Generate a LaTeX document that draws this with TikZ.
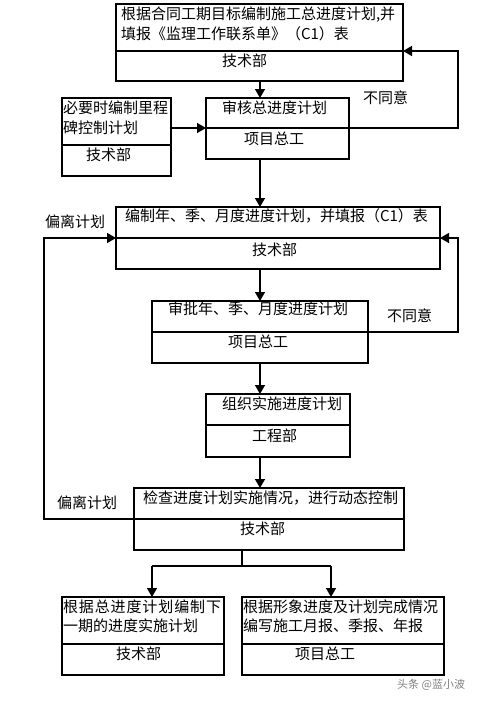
\documentclass[tikz,border=0pt]{standalone}
\usepackage{fontspec}
\setmainfont{Noto Sans CJK SC}
\usetikzlibrary{arrows.meta}
\begin{document}
\begin{tikzpicture}[x=1pt,y=-1pt,
  part/.style={draw, line width=1.7pt, inner sep=0pt, outer sep=0pt, anchor=north west},
  txt/.style={inner sep=0pt, outer sep=0pt, anchor=west, font=\fontsize{15pt}{17pt}\selectfont},
  wm/.style={inner sep=0pt, anchor=west, text=black!50, font=\fontsize{11pt}{13pt}\selectfont},
  conn/.style={line width=1.4pt, -{Triangle[length=9pt,width=10pt]}},
  plain/.style={line width=1.4pt}]
\useasboundingbox (0,0) rectangle (485,701);
% boxes
\node[part, minimum width=287, minimum height=47] (b1t) at (116,4) {};
\node[part, minimum width=287, minimum height=30] (b1b) at (116,51) {};
\node[part, minimum width=143, minimum height=30] (b2t) at (206,98) {};
\node[part, minimum width=143, minimum height=31] (b2b) at (206,128) {};
\node[part, minimum width=109, minimum height=47] (sdt) at (62,98) {};
\node[part, minimum width=109, minimum height=31] (sdb) at (62,145) {};
\node[part, minimum width=324, minimum height=31] (b3t) at (116,207) {};
\node[part, minimum width=324, minimum height=31] (b3b) at (116,238) {};
\node[part, minimum width=216, minimum height=31] (b4t) at (152,301) {};
\node[part, minimum width=216, minimum height=31] (b4b) at (152,332) {};
\node[part, minimum width=144, minimum height=31] (b5t) at (206,394) {};
\node[part, minimum width=144, minimum height=32] (b5b) at (206,425) {};
\node[part, minimum width=270, minimum height=31] (b6t) at (134,488) {};
\node[part, minimum width=270, minimum height=31] (b6b) at (134,519) {};
\node[part, minimum width=162, minimum height=47] (b7t) at (62,597) {};
\node[part, minimum width=162, minimum height=31] (b7b) at (62,644) {};
\node[part, minimum width=202, minimum height=47] (b8t) at (242,597) {};
\node[part, minimum width=202, minimum height=31] (b8b) at (242,644) {};
% texts
\node[txt] (t1a) at (121,15) {根据合同工期目标编制施工总进度计划,并};
\node[txt] (t1b) at (121,34) {填报《监理工作联系单》（C1）表};
\node[txt] (t1c) at (222,61) {技术部};
\node[txt] (t2a) at (222,108) {审核总进度计划};
\node[txt] (t2b) at (244,139) {项目总工};
\node[txt] (tsa) at (63,108) {必要时编制里程};
\node[txt] (tsb) at (63,128) {碑控制计划};
\node[txt] (tsc) at (86,155) {技术部};
\node[txt] (t3a) at (125,216) {编制年、季、月度进度计划，并填报（C1）表};
\node[txt] (t3b) at (252,250) {技术部};
\node[txt] (t4a) at (168,309) {审批年、季、月度进度计划};
\node[txt] (t4b) at (228,342) {项目总工};
\node[txt] (t5a) at (222,404) {组织实施进度计划};
\node[txt] (t5b) at (252,436) {工程部};
\node[txt] (t6a) at (143,498) {检查进度计划实施情况，进行动态控制};
\node[txt] (t6b) at (240,529) {技术部};
\node[txt] (t7a) at (63,607) {\addfontfeature{LetterSpace=6}根据总进度计划编制下};
\node[txt] (t7b) at (63,626) {一期的进度实施计划};
\node[txt] (t7c) at (116,654) {技术部};
\node[txt] (t8a) at (243,607) {根据形象进度及计划完成情况};
\node[txt] (t8b) at (243,626) {编写施工月报、季报、年报};
\node[txt] (t8c) at (295,654) {项目总工};
\node[txt] (l1) at (363,98) {不同意};
\node[txt] (l2) at (387,316) {不同意};
\node[txt] (l3) at (45,222) {偏离计划};
\node[txt] (l4) at (57,503) {偏离计划};
\node[wm] (wmk) at (397,685) {头条 @蓝小波};
% helper coordinates
\coordinate (ax) at (260,0);
\coordinate (bx) at (242,0);
\coordinate (rx) at (458,0);
\coordinate (lx) at (44,0);
\coordinate (sp) at (242,566);
\coordinate (sl) at (152,566);
\coordinate (sr) at (331,566);
% connectors
\draw[conn] (b1b.south -| ax) -- (b2t.north -| ax);
\draw[conn] (b2b.south -| ax) -- (b3t.north -| ax);
\draw[conn] (b3b.south -| ax) -- (b4t.north -| ax);
\draw[conn] (b4b.south -| ax) -- (b5t.north -| ax);
\draw[conn] (b5b.south -| ax) -- (b6t.north -| ax);
\draw[conn] (b2t.south west -| sdt.east) -- (b2t.south west);
\draw[conn] (b2t.south east) -- (rx |- b2t.south east) -- (rx |- b1t.south east) -- (b1t.south east);
\draw[conn] (b4t.south east) -- (rx |- b4t.south east) -- (rx |- b3t.south east) -- (b3t.south east);
\draw[conn] (b6t.south west) -- (lx |- b6t.south west) -- (lx |- b3t.south west) -- (b3t.south west);
\draw[plain] (b6b.south -| bx) -- (sp);
\draw[plain] (sl) -- (sr);
\draw[conn] (sl) -- (sl |- b7t.north);
\draw[conn] (sr) -- (sr |- b8t.north);
\end{tikzpicture}
\end{document}
